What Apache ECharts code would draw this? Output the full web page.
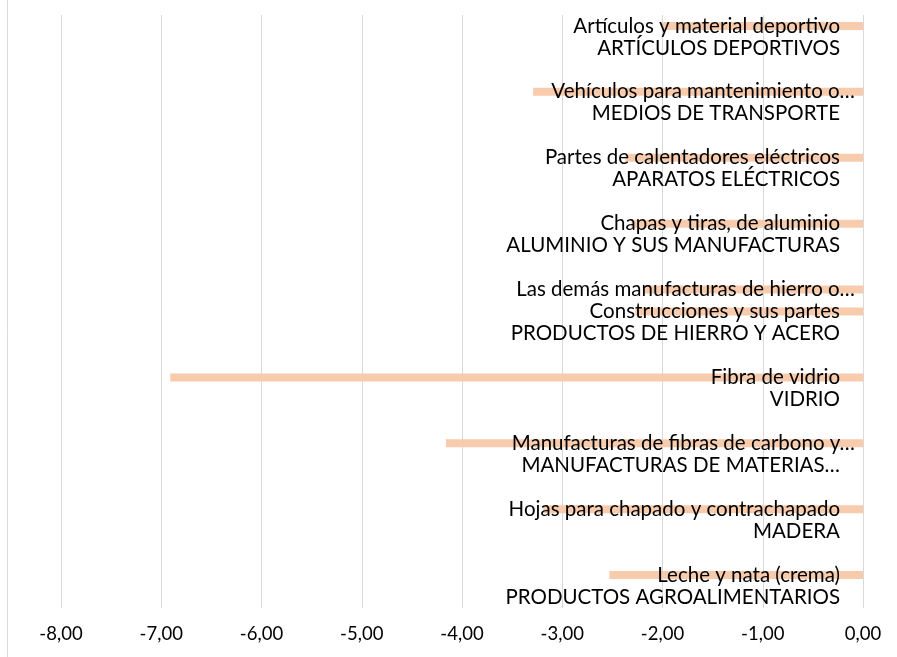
<!DOCTYPE html>
<html>
<head>
<meta charset="utf-8">
<script src="https://cdn.jsdelivr.net/npm/echarts@6/dist/echarts.min.js"></script>
<style>html,body{margin:0;padding:0;background:#fff;}#c{width:897px;height:657px;}</style>
</head>
<body>
<div id="c"></div>
<script>
// Group (chapter) names, top to bottom
const groupNames = [
  'ARTÍCULOS DEPORTIVOS',
  'MEDIOS DE TRANSPORTE',
  'APARATOS ELÉCTRICOS',
  'ALUMINIO Y SUS MANUFACTURAS',
  'PRODUCTOS DE HIERRO Y ACERO',
  'VIDRIO',
  'MANUFACTURAS DE MATERIAS…',
  'MADERA',
  'PRODUCTOS AGROALIMENTARIOS'
];
// Product names, top to bottom
const itemNames = [
  'Artículos y material deportivo',
  'Vehículos para mantenimiento o…',
  'Partes de calentadores eléctricos',
  'Chapas y tiras, de aluminio',
  'Las demás manufacturas de hierro o…',
  'Construcciones y sus partes',
  'Fibra de vidrio',
  'Manufacturas de fibras de carbono y…',
  'Hojas para chapado y contrachapado',
  'Leche y nata (crema)'
];
// Group index of each product
const itemGroup = [0, 1, 2, 3, 4, 4, 5, 6, 7, 8];
// Values of each product
const itemValues = [-2.00, -3.29, -2.37, -2.31, -2.19, -2.27, -6.91, -4.16, -3.19, -2.53];
// x axis ticks
const xMin = -8, xMax = 0, xStep = 1;

// Build multi-level category list: items, then group label row, then blank row
const cats = [];
const vals = [];
const truncated = new Set();
groupNames.forEach((g, gi) => {
  itemNames.forEach((n, i) => {
    if (itemGroup[i] === gi) { cats.push(n); vals.push(itemValues[i]); }
  });
  cats.push(g); vals.push(null);
  if (gi < groupNames.length - 1) { cats.push(' '); vals.push(null); }
});

const FONT = 'Lato';
const FS = 20.5;
const chart = echarts.init(document.getElementById('c'));
chart.setOption({
  animation: false,
  backgroundColor: '#fff',
  textStyle: { fontFamily: FONT },
  graphic: [{
    type: 'line', shape: { x1: 7.5, y1: 0, x2: 7.5, y2: 657 },
    style: { stroke: '#d9d9d9', lineWidth: 1 }, silent: true
  }],
  grid: { left: 61, right: 34, top: 15, bottom: 49, containLabel: false },
  xAxis: {
    type: 'value', min: xMin, max: xMax, interval: xStep,
    axisLine: { show: false }, axisTick: { show: false },
    splitLine: { show: true, lineStyle: { color: '#d9d9d9', width: 1 } },
    axisLabel: {
      color: '#000', fontFamily: FONT, fontSize: 18.5, margin: 17,
      formatter: v => v.toFixed(2).replace('.', ',')
    }
  },
  yAxis: {
    type: 'category', data: cats, inverse: true, position: 'right', z: 10,
    axisLine: { show: false }, axisTick: { show: false },
    axisLabel: {
      inside: true, margin: 23, interval: 0, color: '#000',
      fontFamily: FONT, fontSize: FS,
      formatter: v => v.endsWith('…') && v === v.replace(/[a-z]/g, '') ? v : (v.endsWith('…') ? '{t|' + v + '}' : v),
      rich: { t: { fontFamily: FONT, fontSize: FS, color: '#000', padding: [0, -15, 0, 0] } }
    }
  },
  series: [{
    type: 'bar', data: vals, barWidth: 8, z: 2,
    itemStyle: { color: '#F8CBAD' }
  }]
});
</script>
</body>
</html>
